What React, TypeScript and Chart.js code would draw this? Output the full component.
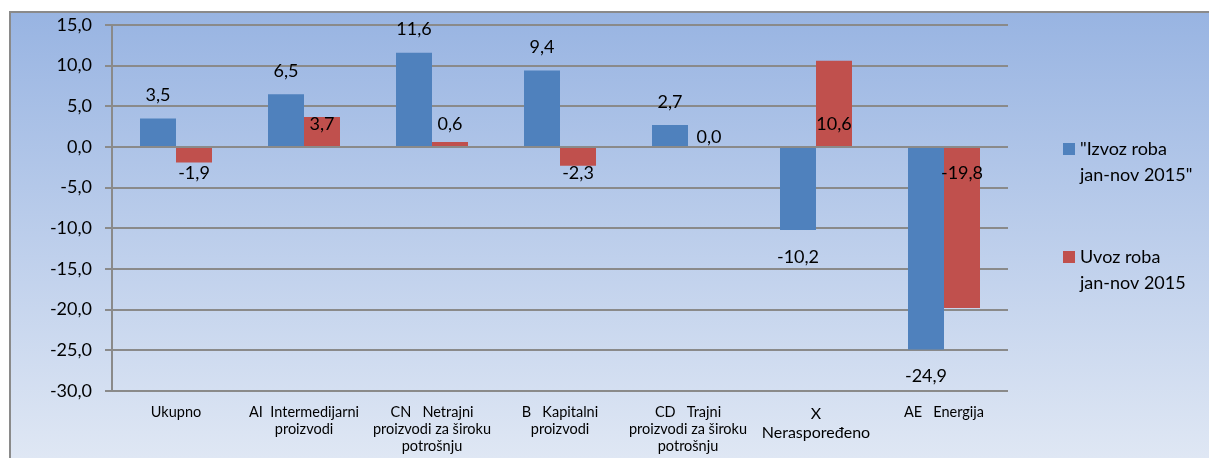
import React, { useEffect, useRef } from "react";
import { Chart, registerables } from "chart.js";

Chart.register(...registerables);

const categories: string[][] = [
  ["Ukupno"],
  ["AI  Intermedijarni", "proizvodi"],
  ["CN   Netrajni", "proizvodi za široku", "potrošnju"],
  ["B   Kapitalni", "proizvodi"],
  ["CD   Trajni", "proizvodi za široku", "potrošnju"],
  ["X", "Neraspoređeno"],
  ["AE   Energija"],
];

const izvozValues: number[] = [3.5, 6.5, 11.6, 9.4, 2.7, -10.2, -24.9];
const uvozValues: number[] = [-1.9, 3.7, 0.6, -2.3, 0.0, 10.6, -19.8];

const seriesLabels: string[][] = [
  ['"Izvoz roba', 'jan-nov 2015"'],
  ["Uvoz roba", "jan-nov 2015"],
];
const seriesColors: string[] = ["#4f81bd", "#c0504d"];

const yMin = -30;
const yMax = 15;
const yStep = 5;

const FONT = "Lato, 'Open Sans', sans-serif";

const fmt = (v: number) => v.toFixed(1).replace(".", ",");

const bgPlugin = {
  id: "bgPlugin",
  beforeDraw(chart: any) {
    const { ctx, width, height } = chart;
    ctx.save();
    ctx.fillStyle = "#ffffff";
    ctx.fillRect(0, 0, width, height);
    const g = ctx.createLinearGradient(0, 12, 0, height);
    g.addColorStop(0, "#98b4e2");
    g.addColorStop(1, "#dfe7f4");
    ctx.fillStyle = g;
    ctx.fillRect(10, 12, width - 10, height - 12);
    ctx.strokeStyle = "#8a8a8a";
    ctx.lineWidth = 2;
    ctx.beginPath();
    ctx.moveTo(10, height);
    ctx.lineTo(10, 12);
    ctx.lineTo(width, 12);
    ctx.stroke();
    ctx.restore();
  },
};

const labelPlugin = {
  id: "labelPlugin",
  afterDatasetsDraw(chart: any) {
    const { ctx } = chart;
    const yScale = chart.scales.y;
    const zeroY = yScale.getPixelForValue(0);
    ctx.save();
    ctx.font = `18px ${FONT}`;
    ctx.fillStyle = "#000000";
    ctx.textAlign = "center";
    ctx.textBaseline = "middle";
    const m0 = chart.getDatasetMeta(0);
    m0.data.forEach((bar: any, i: number) => {
      const v = izvozValues[i];
      const y = v >= 0 ? bar.y - 23 : bar.y + 27;
      ctx.fillText(fmt(v), bar.x, y);
    });
    const m1 = chart.getDatasetMeta(1);
    m1.data.forEach((bar: any, i: number) => {
      const v = uvozValues[i];
      let y = zeroY - 23;
      let x = bar.x;
      if (v < 0) y = zeroY + 26;
      else if (v === 0) {
        y = zeroY - 10;
        x = bar.x + 3;
      }
      ctx.fillText(fmt(v), x, y);
    });
    ctx.restore();
  },
  afterDraw(chart: any) {
    const { ctx } = chart;
    ctx.save();
    ctx.font = `18px ${FONT}`;
    ctx.textBaseline = "middle";
    ctx.textAlign = "left";
    const tops = [149, 257];
    seriesLabels.forEach((lines, s) => {
      const y0 = tops[s];
      ctx.fillStyle = seriesColors[s];
      ctx.fillRect(1063, y0 - 6, 12, 12);
      ctx.fillStyle = "#000000";
      lines.forEach((ln, k) => ctx.fillText(ln, 1080, y0 + k * 26));
    });
    ctx.restore();
  },
};

export default function App() {
  const ref = useRef<HTMLCanvasElement | null>(null);
  useEffect(() => {
    if (!ref.current) return;
    const chart = new Chart(ref.current, {
      type: "bar",
      data: {
        labels: categories,
        datasets: [
          {
            label: seriesLabels[0].join(" "),
            data: izvozValues,
            backgroundColor: seriesColors[0],
            borderWidth: 0,
            categoryPercentage: 0.5625,
            barPercentage: 1,
          },
          {
            label: seriesLabels[1].join(" "),
            data: uvozValues,
            backgroundColor: seriesColors[1],
            borderWidth: 0,
            categoryPercentage: 0.5625,
            barPercentage: 1,
          },
        ],
      },
      options: {
        responsive: false,
        animation: false,
        devicePixelRatio: 1,
        layout: { padding: { top: 25, right: 201, left: 0, bottom: 0 } },
        plugins: {
          legend: { display: false },
          tooltip: { enabled: false },
        },
        scales: {
          x: {
            grid: { display: false, drawTicks: false },
            border: { display: false },
            ticks: {
              color: "#000000",
              padding: 13,
              maxRotation: 0,
              autoSkip: false,
              font: (c: any) => ({
                family: FONT,
                size: c.index === 5 ? 16 : 14.5,
                lineHeight: c.index === 5 ? 1.19 : 1.17,
              }),
            },
            afterFit: (s: any) => {
              s.height = 67;
            },
          },
          y: {
            min: yMin,
            max: yMax,
            grid: {
              color: "#8a8a8a",
              lineWidth: 2,
              tickLength: 7,
              tickColor: "#8a8a8a",
            },
            border: { display: true, color: "#8a8a8a", width: 2 },
            ticks: {
              stepSize: yStep,
              color: "#000000",
              padding: 13,
              font: { family: FONT, size: 18 },
              callback: (v: any) => fmt(Number(v)),
            },
            afterFit: (s: any) => {
              s.width = 112;
            },
          },
        },
      },
      plugins: [bgPlugin, labelPlugin],
    });
    return () => chart.destroy();
  }, []);
  return (
    <div style={{ position: "fixed", left: 0, top: 0, width: 1209, height: 458 }}>
      <canvas ref={ref} width={1209} height={458} />
    </div>
  );
}
